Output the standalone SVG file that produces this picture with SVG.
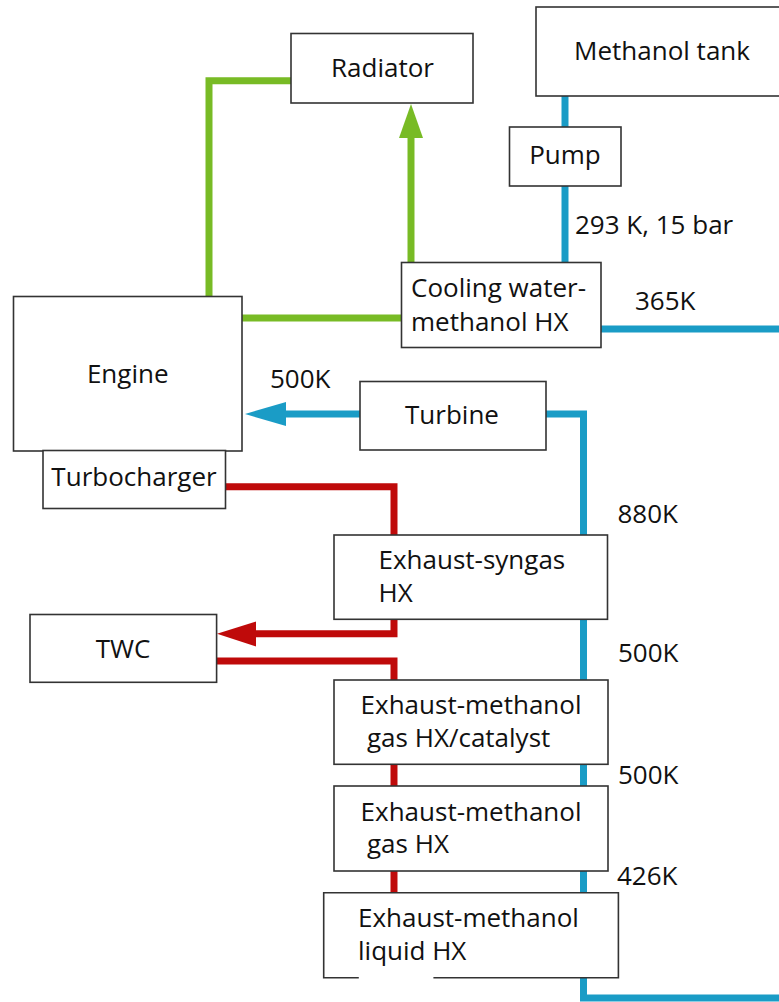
<svg xmlns="http://www.w3.org/2000/svg" width="779" height="1002" viewBox="0 0 779 1002">
<style>
.box{fill:#fff;stroke:#333;stroke-width:1.6}
.t{font-family:"Open Sans","Noto Sans",sans-serif;font-size:26px;fill:#111}
.c{text-anchor:middle}
.g{fill:none;stroke:#78bb25;stroke-width:7}
.b{fill:none;stroke:#1a9cc6;stroke-width:7}
.r{fill:none;stroke:#bf0a0a;stroke-width:7}
</style>
<rect width="779" height="1002" fill="#fff"/>
<g id="connectors">
<path class="g" d="M209,296 V80.7 H291"/>
<path class="g" d="M411,262 V134"/>
<polygon points="411,104 399,138 423,138" fill="#78bb25"/>
<path class="g" d="M242,318 H401"/>
<path class="b" d="M565,96 V127"/>
<path class="b" d="M565,186 V262"/>
<path class="b" d="M601,329 H779"/>
<path class="b" d="M546,414 H583.5 V998 H779"/>
<path class="b" d="M360,414 H282"/>
<polygon points="245,414 286,402 286,426" fill="#1a9cc6"/>
<path class="r" d="M225.5,486.7 H394 V535"/>
<path class="r" d="M394,619 V633.7 H252"/>
<polygon points="217,633.7 256,621.5 256,646.5" fill="#bf0a0a"/>
<path class="r" d="M216.6,661 H394 V680"/>
<path class="r" d="M394,764 V786"/>
<path class="r" d="M394,871 V893"/>
</g>
<g id="radiator"><rect class="box" x="291" y="33.5" width="182" height="69.5"/><text class="t c" x="382.5" y="77">Radiator</text></g>
<g id="methanol-tank"><rect class="box" x="536" y="7" width="260" height="89"/><text class="t c" x="662" y="59.5">Methanol tank</text></g>
<g id="pump"><rect class="box" x="509.5" y="127" width="111.5" height="59"/><text class="t c" x="565" y="163.5">Pump</text></g>
<g id="cooling-hx"><rect class="box" x="401.5" y="262.5" width="199.5" height="85"/><text class="t" x="411" y="296.5">Cooling water-</text><text class="t" x="411" y="331">methanol HX</text></g>
<g id="label-293"><text class="t" x="575" y="233.5">293 K, 15 bar</text></g>
<g id="label-365"><text class="t" x="635" y="309.5">365K</text></g>
<g id="engine"><rect class="box" x="13.5" y="296.5" width="228.5" height="154.5"/><text class="t c" x="127.7" y="382.5">Engine</text></g>
<g id="label-500a"><text class="t" x="270" y="387.5">500K</text></g>
<g id="turbine"><rect class="box" x="360" y="381.5" width="186" height="68.5"/><text class="t c" x="452" y="423.5">Turbine</text></g>
<g id="turbocharger"><rect class="box" x="43" y="450.5" width="182.5" height="58"/><text class="t c" x="134" y="486">Turbocharger</text></g>
<g id="label-880"><text class="t" x="617.5" y="522.5">880K</text></g>
<g id="syngas-hx"><rect class="box" x="334" y="535" width="273.5" height="84.3"/><text class="t" x="378.5" y="568.5">Exhaust-syngas</text><text class="t" x="378.5" y="601.5">HX</text></g>
<g id="twc"><rect class="box" x="30" y="614.5" width="186.6" height="67.8"/><text class="t c" x="123" y="657.5">TWC</text></g>
<g id="label-500b"><text class="t" x="618" y="661.5">500K</text></g>
<g id="catalyst-hx"><rect class="box" x="334" y="680" width="274" height="84.3"/><text class="t" x="360.6" y="713.5">Exhaust-methanol</text><text class="t" x="367" y="747">gas HX/catalyst</text></g>
<g id="label-500c"><text class="t" x="618" y="784">500K</text></g>
<g id="gas-hx"><rect class="box" x="334" y="786" width="274" height="85"/><text class="t" x="360.6" y="820.5">Exhaust-methanol</text><text class="t" x="367" y="853">gas HX</text></g>
<g id="label-426"><text class="t" x="617" y="884.5">426K</text></g>
<g id="liquid-hx"><rect x="323.7" y="892.7" width="294.7" height="85" fill="#fff"/><path d="M358.8,977.7 H323.7 V892.7 H618.4 V977.7 H433.4" fill="none" stroke="#333" stroke-width="1.6"/><text class="t" x="358" y="926.5">Exhaust-methanol</text><text class="t" x="358" y="959.5">liquid HX</text></g>
</svg>
